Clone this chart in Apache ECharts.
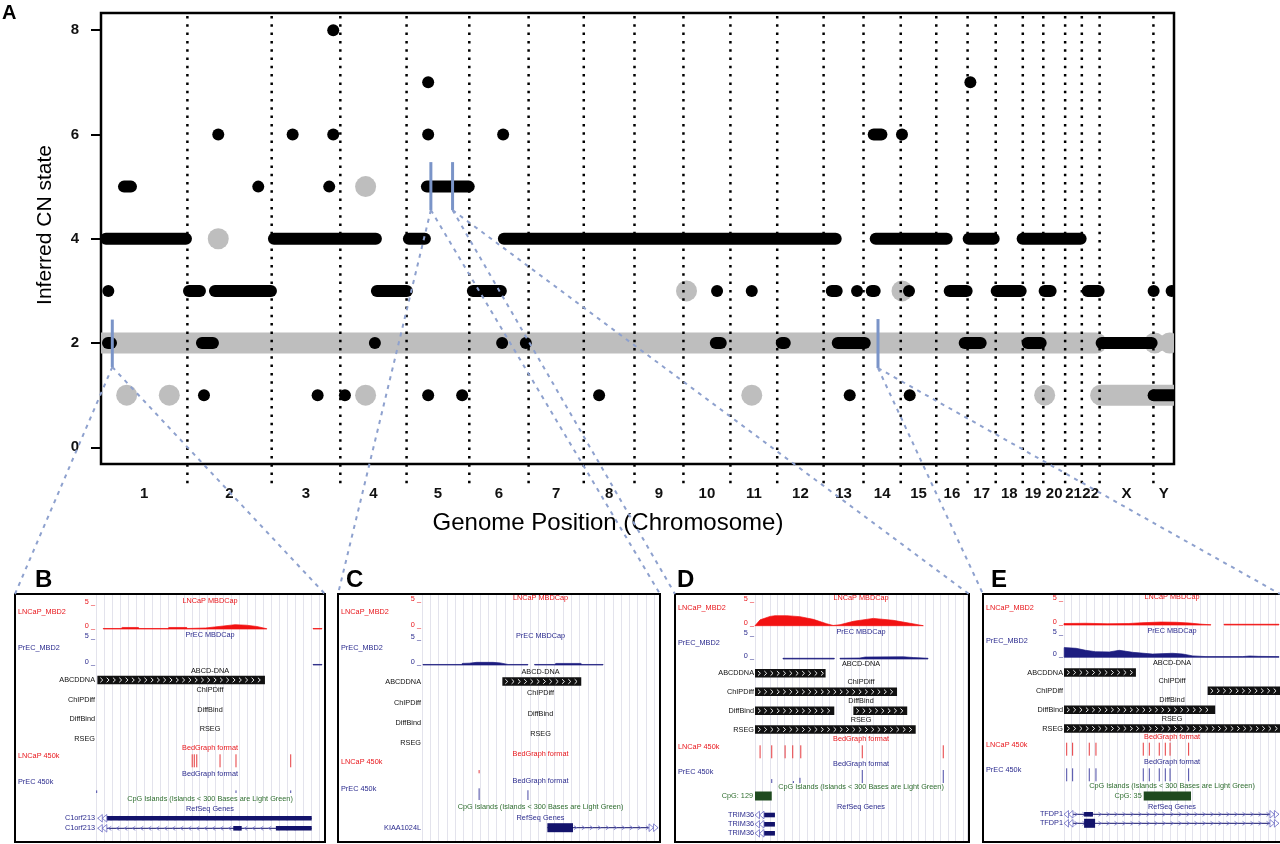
<!DOCTYPE html>
<html><head><meta charset="utf-8">
<script src="https://cdn.jsdelivr.net/npm/echarts@6/dist/echarts.min.js"></script>
<style>html,body{margin:0;padding:0;background:#fff;}#c{width:1280px;height:844px;}</style>
</head><body><div id="c"></div>
<script>
// ================= Panel A data =================
const chromNames = ['1','2','3','4','5','6','7','8','9','10','11','12','13','14','15','16','17','18','19','20','21','22','X','Y'];
const chromLengthsMb = [249.25,243.20,198.02,191.15,180.92,171.12,159.14,146.36,141.21,135.53,135.01,133.85,115.17,107.35,102.53,90.35,81.20,78.08,59.13,63.03,48.13,51.30,155.27,59.37];
const yTicks = [0,2,4,6,8];
// [start Mb (genome cumulative), end Mb, inferred CN state]
const lncapSegments = [
 [670.0,670.0,8],
 [943.9,943.9,7],[2508.2,2508.2,7],
 [338.3,338.3,6],[552.9,552.9,6],[670.0,670.0,6],[943.9,943.9,6],[1160.2,1160.2,6],[2229.3,2251.5,6],[2310.9,2310.9,6],
 [66.3,86.5,5],[453.7,453.7,5],[658.4,658.4,5],[940.2,1061,5],
 [14,245.1,4],[498.9,793.1,4],[888.3,934.4,4],[1162.3,2119.7,4],[2235.1,2439.9,4],[2503.3,2575.4,4],[2659.0,2826.3,4],
 [21.1,21.1,3],[253.8,285.5,3],[328.8,490.3,3],[796.0,882.5,3],[1072.8,1153.6,3],[1777.4,1777.4,3],[1877.5,1877.5,3],[2108.2,2122.6,3],[2181.2,2181.2,3],[2223.6,2232.2,3],[2331.1,2331.1,3],[2448.5,2497.5,3],[2584.1,2653.3,3],[2722.5,2739.8,3],[2846.5,2878.2,3],[3036.9,3036.9,3],[3088.8,3088.8,3],
 [20.2,28.8,2],[291.3,323.0,2],[790.2,790.2,2],[1157.3,1157.3,2],[1225.7,1225.7,2],[1773.7,1788.1,2],[1964.0,1972.7,2],[2125.5,2203.4,2],[2491.8,2537.9,2],[2673.5,2711.0,2],[2886.9,3031.1,2],
 [297.1,297.1,1],[625.0,625.0,1],[703.7,703.7,1],[943.9,943.9,1],[1042.0,1042.0,1],[1437.1,1437.1,1],[2160.1,2160.1,1],[2333.2,2333.2,1],[3036.9,3130,1]
];
const normalSegments = [
 [0,2871,2],[3039.8,3039.8,2],[3083.0,3083.0,2],
 [763.4,763.4,5],[338.3,338.3,4],[1689.2,1689.2,3],[2310.9,2310.9,3],
 [74.1,74.1,1],[197.0,197.0,1],[763.4,763.4,1],[1877.5,1877.5,1],[2722.5,2722.5,1],[2884,3130,1]
];
// [position Mb, low CN, high CN] -> zoomed regions B, C, D, E
const zoomMarkers = [[32.6,1.54,2.45],[951.7,4.55,5.47],[1014.3,4.55,5.47],[2241.7,1.52,2.46]];

// ================= Browser panels data (x in % of view) =================
const panelLetters = ['B','C','D','E'];
const barTitles = ['ABCD-DNA','ChIPDiff','DiffBind','RSEG'];
const barLabels = ['ABCDDNA','ChIPDiff','DiffBind','RSEG'];
const cpgTitle = 'CpG Islands (Islands < 300 Bases are Light Green)';

const B_lncapSignal = [[[3.2,0.1],[11,0.1],[11.5,0.3],[18.6,0.3],[19,0.1],[31.5,0.1],[32,0.3],[39.8,0.3],[40.2,0.1],[48,0.2],[52,0.4],[56,0.6],[61,0.85],[66,0.75],[70.5,0.5],[74.9,0.05]],[[95.2,0.1],[99.1,0.1]]];
const B_precSignal = [[[95.2,0.1],[99.1,0.1]]];
const B_abcd = [[0.6,74.1]];
const B_chipdiff = [];
const B_diffbind = [];
const B_rseg = [];
const B_lncap450 = [[42.2,1],[43.1,1],[44.2,1],[54.4,1],[61.4,1],[85.4,1]];
const B_prec450 = [[0.3,0.2],[61.4,0.2],[85.4,0.2]];
const B_cpg = [];
const B_genes = [['C1orf213',0.8,94.6,[[4.7,94.6,'utr']],'-'],['C1orf213',0.8,94.6,[[60.2,63.9,'utr'],[78.9,94.6,'utr']],'-']];

const C_lncapSignal = [];
const C_precSignal = [[[0.4,0.1],[16.6,0.1],[17,0.3],[20,0.35],[23,0.5],[30,0.5],[33,0.4],[36.3,0.1],[44.7,0.1]],[[47.5,0.1],[56,0.1],[56.5,0.3],[67,0.3],[67.5,0.1],[76.4,0.1]]];
const C_abcd = [[33.9,67.2]];
const C_chipdiff = [];
const C_diffbind = [];
const C_rseg = [];
const C_lncap450 = [[24.1,0.25]];
const C_prec450 = [[24.1,0.9],[44.7,0.75]];
const C_cpg = [];
const C_genes = [['KIAA1024L',52.9,99.6,[[52.9,63.7,'cds']],'+']];

const D_lncapSignal = [[[0,0],[2.4,1.2],[7.1,1.9],[9.4,2.05],[15,2.05],[21.2,1.85],[27.5,1.3],[33.8,0.4],[36.9,0.05],[40.1,0.2],[46.4,0.9],[55.8,1.5],[65.2,1.1],[73.1,0.5],[79.4,0]]];
const D_precSignal = [[[13.2,0.15],[37.4,0.15]],[[40.1,0.15],[49.5,0.2],[52,0.4],[70,0.45],[74.7,0.3],[81.6,0.15]]];
const D_abcd = [[0,33.3]];
const D_chipdiff = [[0,67]];
const D_diffbind = [[0,37.4],[46.4,71.8]];
const D_rseg = [[0,75.8]];
const D_lncap450 = [[2.4,1],[7.9,1],[14.2,1],[17.8,1],[21.6,1],[50.6,1],[88.8,1]];
const D_prec450 = [[7.9,0.3],[18.1,0.15],[21.2,0.4],[50.6,1],[88.8,1]];
const D_cpg = [[0,7.9,'CpG: 129']];
const D_genes = [['TRIM36',0,9.4,[[4.2,9.4,'utr']],'-'],['TRIM36',0,9.4,[[4.2,9.4,'utr']],'-'],['TRIM36',0,9.4,[[4.2,9.4,'utr']],'-']];

const E_lncapSignal = [[[0,0.3],[10,0.35],[20,0.25],[30,0.3],[36,0.45],[45,0.6],[52,0.55],[58,0.4],[64,0.15],[68,0.05]],[[74.1,0.15],[99.5,0.15]]];
const E_precSignal = [[[0.1,2.08],[5.6,1.93],[10,1.5],[14.6,1.2],[21,1.15],[25.6,1.5],[31.8,1.07],[41,0.7],[50.3,0.86],[55,0.7],[59.6,0.3],[65.7,0.15],[82.7,0.15],[86,0.28],[90,0.2],[99.5,0.15]]];
const E_abcd = [[0,33.3]];
const E_chipdiff = [[66.5,100]];
const E_diffbind = [[0,70]];
const E_rseg = [[0,100]];
const E_lncap450 = [[1.25,1],[4,1],[11.7,1],[14.8,1],[36.7,1],[39.5,1],[44.1,1],[46.9,1],[49.1,1],[57.7,1]];
const E_prec450 = [[1.25,1],[4,1],[11.7,1],[14.8,1],[36.7,1],[39.5,1],[44.1,1],[46.9,1],[49.1,1],[57.7,1]];
const E_cpg = [[36.9,58.8,'CpG: 35']];
const E_genes = [['TFDP1',0,99.5,[[9.3,13.4,'utr']],'+'],['TFDP1',0,99.5,[[9.3,14.4,'cds']],'+']];

// ================= layout / styling =================
const FONT = "'Liberation Sans', Arial, Helvetica, sans-serif";
const RED = '#e8161b', RED_FILL = '#f21212', NAVY = '#2b2b8e', NAVY_FILL = '#1d1d80';
const GREEN = '#2f6e2f', CPG_FILL = '#1f4a1f', GENE = '#13136b', GENE_LIGHT = '#6b6bc4';
const Y_MIN = -0.32, Y_MAX = 8.33;
const PF = 7.3; // panel font size

const panelLayouts = [
 {box:[15,594,310,248], dl:81, dw:228, t1:6.7, l1:18.3, b1:35, t2:41, l2:53.7, b2:71, bars:[86,105.5,125,144.5], bg1:154.3, bg2:180, cpgT:205.3, cpgBar:213, refT:215.3, genes:[224.3,234.3]},
 {box:[338,594,322,248], dl:84, dw:237, t1:4.3, l1:17.7, b1:34, t2:41.7, l2:53.7, b2:71, bars:[87.5,108.7,129.3,149.3], bg1:160.3, bg2:187, cpgT:213.3, cpgBar:220, refT:224.3, genes:[233.7]},
 {box:[675,594,294,248], dl:80, dw:212, t1:4.3, l1:14.3, b1:31.7, t2:37.7, l2:49.3, b2:65, bars:[79.3,97.8,116.8,135.5], bg1:145.3, bg2:170, cpgT:193.3, cpgBar:202, refT:213.3, genes:[221,230.3,239.3]},
 {box:[983,594,300,248], dl:81, dw:216, t1:3.3, l1:14.3, b1:31, t2:37, l2:47, b2:63.3, bars:[78.5,96.8,115.8,134.5], bg1:142.7, bg2:168.3, cpgT:191.7, cpgBar:202, refT:212.7, genes:[220.3,229.3]}
];
const panelSets = [
 {lncap:B_lncapSignal, prec:B_precSignal, bars:[B_abcd,B_chipdiff,B_diffbind,B_rseg], l450:B_lncap450, p450:B_prec450, cpg:B_cpg, genes:B_genes},
 {lncap:C_lncapSignal, prec:C_precSignal, bars:[C_abcd,C_chipdiff,C_diffbind,C_rseg], l450:C_lncap450, p450:C_prec450, cpg:C_cpg, genes:C_genes},
 {lncap:D_lncapSignal, prec:D_precSignal, bars:[D_abcd,D_chipdiff,D_diffbind,D_rseg], l450:D_lncap450, p450:D_prec450, cpg:D_cpg, genes:D_genes},
 {lncap:E_lncapSignal, prec:E_precSignal, bars:[E_abcd,E_chipdiff,E_diffbind,E_rseg], l450:E_lncap450, p450:E_prec450, cpg:E_cpg, genes:E_genes}
];

// ================= derived =================
const chromStarts = [], chromMids = [];
let acc = 0;
chromLengthsMb.forEach(l => { chromStarts.push(acc); chromMids.push(acc + l / 2); acc += l; });
const totalMb = acc;
const boundaries = chromStarts.slice(1).map(b => [b, 0]);

function segRender(h, color) {
  return function (params, api) {
    const p1 = api.coord([api.value(0), api.value(2)]);
    const p2 = api.coord([api.value(1), api.value(2)]);
    const cs = params.coordSys;
    return {type:'group', clipPath:{type:'rect', shape:{x:cs.x, y:cs.y, width:cs.width, height:cs.height}},
      children:[{type:'rect', shape:{x:p1[0]-h/2, y:p1[1]-h/2, width:(p2[0]-p1[0])+h, height:h, r:h/2}, style:{fill:color}}]};
  };
}
function dotRender(params, api) {
  const b = api.value(0);
  const t = api.coord([b, Y_MAX]), bt = api.coord([b, Y_MIN]);
  return {type:'line', shape:{x1:t[0], y1:t[1]+3, x2:t[0], y2:bt[1]+21}, style:{stroke:'#000', lineWidth:2.5, lineDash:[2.5,5.8]}};
}
function markerRender(params, api) {
  const x = api.value(0);
  const a = api.coord([x, api.value(1)]), b = api.coord([x, api.value(2)]);
  return {type:'line', shape:{x1:a[0], y1:a[1], x2:b[0], y2:b[1]}, style:{stroke:'#7a94c8', lineWidth:3}};
}
function txt(x, y, s, fill, align, size, weight) {
  return {type:'text', x:x, y:y, style:{text:s, fill:fill, font:(weight||'normal')+' '+size+'px '+FONT, align:align, verticalAlign:'middle', textAlign:align, textVerticalAlign:'middle'}};
}

function panelMarks(k) {
  const L = panelLayouts[k], D = panelSets[k], m = [];
  m.push({t:'txt', a:'mid', y:L.t1, s:'LNCaP MBDCap', c:RED});
  m.push({t:'txt', a:'lab', y:L.t1+1, s:'5 _', c:RED});
  m.push({t:'txt', a:'lab', y:L.b1-3, s:'0 _', c:RED});
  m.push({t:'txt', a:'box', y:L.l1, s:'LNCaP_MBD2', c:RED});
  D.lncap.forEach(p => m.push({t:'sig', pts:p, base:L.b1, top:L.t1, c:RED_FILL}));
  m.push({t:'txt', a:'mid', y:L.t2, s:'PrEC MBDCap', c:NAVY});
  m.push({t:'txt', a:'lab', y:L.t2+1, s:'5 _', c:NAVY});
  m.push({t:'txt', a:'lab', y:L.b2-3, s:'0 _', c:NAVY});
  m.push({t:'txt', a:'box', y:L.l2, s:'PrEC_MBD2', c:NAVY});
  D.prec.forEach(p => m.push({t:'sig', pts:p, base:L.b2, top:L.t2, c:NAVY_FILL}));
  barTitles.forEach((bt, j) => {
    m.push({t:'txt', a:'mid', y:L.bars[j]-9.5, s:bt, c:'#111'});
    m.push({t:'txt', a:'lab', y:L.bars[j], s:barLabels[j], c:'#111'});
    D.bars[j].forEach(b => m.push({t:'bar', s:b[0], e:b[1], y:L.bars[j]}));
  });
  m.push({t:'txt', a:'mid', y:L.bg1, s:'BedGraph format', c:RED});
  m.push({t:'txt', a:'box', y:L.bg1+8, s:'LNCaP 450k', c:RED});
  D.l450.forEach(tk => m.push({t:'tick', p:tk[0], v:tk[1], y:L.bg1, c:'#e63a3e'}));
  m.push({t:'txt', a:'mid', y:L.bg2, s:'BedGraph format', c:NAVY});
  m.push({t:'txt', a:'box', y:L.bg2+8, s:'PrEC 450k', c:NAVY});
  D.p450.forEach(tk => m.push({t:'tick', p:tk[0], v:tk[1], y:L.bg2, c:'#4a4aa6'}));
  m.push({t:'txt', a:'mid', y:L.cpgT, s:cpgTitle, c:GREEN});
  D.cpg.forEach(cg => m.push({t:'cpg', s:cg[0], e:cg[1], lbl:cg[2], y:L.cpgBar}));
  m.push({t:'txt', a:'mid', y:L.refT, s:'RefSeq Genes', c:NAVY});
  D.genes.forEach((g, j) => m.push({t:'gene', g:g, y:L.genes[j]}));
  return m;
}

function panelRender(marks, L) {
  return function (params, api) {
    const m = marks[params.dataIndex];
    const C = (x, y) => api.coord([x, y]);
    const x0 = C(0, 0)[0];
    if (m.t === 'txt') {
      const y = C(0, m.y)[1];
      if (m.a === 'mid') return txt(C(50, m.y)[0], y, m.s, m.c, 'center', PF);
      if (m.a === 'lab') return txt(x0 - 1, y, m.s, m.c, 'right', PF);
      return txt(x0 - L.dl + 3, y, m.s, m.c, 'left', PF);
    }
    if (m.t === 'sig') {
      const k = (m.base - m.top - 3) / 5;
      const pts = [C(m.pts[0][0], m.base)];
      m.pts.forEach(p => pts.push(C(p[0], m.base - p[1] * k)));
      pts.push(C(m.pts[m.pts.length-1][0], m.base));
      return {type:'polygon', shape:{points:pts}, style:{fill:m.c, stroke:m.c, lineWidth:0.7}};
    }
    if (m.t === 'bar') {
      const a = C(m.s, m.y - 4.25), b = C(m.e, m.y + 4.25);
      const ch = [{type:'rect', shape:{x:a[0], y:a[1], width:b[0]-a[0], height:b[1]-a[1]}, style:{fill:'#111'}}];
      const yc = (a[1] + b[1]) / 2;
      for (let x = a[0] + 3; x + 4 < b[0]; x += 6.3) {
        ch.push({type:'polyline', shape:{points:[[x, yc-2.3],[x+2.4, yc],[x, yc+2.3]]}, style:{stroke:'#fff', lineWidth:0.9, fill:null}});
      }
      return {type:'group', children:ch};
    }
    if (m.t === 'tick') {
      const a = C(m.p, m.y + 19), b = C(m.p, m.y + 19 - 13 * m.v);
      return {type:'line', shape:{x1:a[0], y1:a[1], x2:b[0], y2:b[1]}, style:{stroke:m.c, lineWidth:1}};
    }
    if (m.t === 'cpg') {
      const a = C(m.s, m.y - 4.5), b = C(m.e, m.y + 4.5);
      return {type:'group', children:[
        {type:'rect', shape:{x:a[0], y:a[1], width:b[0]-a[0], height:b[1]-a[1]}, style:{fill:CPG_FILL}},
        txt(a[0] - 2, (a[1]+b[1])/2, m.lbl, GREEN, 'right', PF)
      ]};
    }
    if (m.t === 'gene') {
      const g = m.g;
      const a = C(g[1], m.y), b = C(g[2], m.y);
      const ch = [txt(x0 - 1, a[1], g[0], NAVY, 'right', PF),
        {type:'line', shape:{x1:a[0], y1:a[1], x2:b[0], y2:b[1]}, style:{stroke:GENE, lineWidth:1}}];
      const dir = g[4] === '+' ? 1 : -1;
      for (let x = a[0] + 12; x < b[0] - 10; x += 8) {
        ch.push({type:'polyline', shape:{points:[[x - 1.5*dir, a[1]-2],[x + 1.5*dir, a[1]],[x - 1.5*dir, a[1]+2]]}, style:{stroke:GENE_LIGHT, lineWidth:0.8, fill:null}});
      }
      g[3].forEach(bl => {
        const h = bl[2] === 'cds' ? 9 : 4.6;
        const p = C(bl[0], m.y), q = C(bl[1], m.y);
        ch.push({type:'rect', shape:{x:p[0], y:p[1]-h/2, width:q[0]-p[0], height:h}, style:{fill:GENE}});
      });
      if (g[1] <= 1) {
        [0, 4.5].forEach(o => ch.push({type:'polygon', shape:{points:[[a[0]+o+4.5, a[1]-3.8],[a[0]+o, a[1]],[a[0]+o+4.5, a[1]+3.8]]}, style:{stroke:GENE_LIGHT, fill:'#fff', lineWidth:0.8}}));
      }
      if (g[2] >= 99) {
        [0, 4.5].forEach(o => ch.push({type:'polygon', shape:{points:[[b[0]-o-4.5, b[1]-3.8],[b[0]-o, b[1]],[b[0]-o-4.5, b[1]+3.8]]}, style:{stroke:GENE_LIGHT, fill:'#fff', lineWidth:0.8}}));
      }
      return {type:'group', children:ch};
    }
    return null;
  };
}

// ================= option =================
const grids = [{left:101, top:13, width:1073, height:451, show:true, borderColor:'#000', borderWidth:2.5, backgroundColor:'transparent'}];
const xAxes = [{gridIndex:0, type:'value', min:0, max:totalMb,
  axisLine:{show:false}, axisTick:{show:false}, splitLine:{show:false},
  axisLabel:{customValues:chromMids, margin:22, color:'#111', fontSize:15, fontWeight:'bold', fontFamily:FONT,
    formatter: v => { let best = 0; chromMids.forEach((m, i) => { if (Math.abs(m - v) < Math.abs(chromMids[best] - v)) best = i; }); return chromNames[best]; }}}];
const yAxes = [{gridIndex:0, type:'value', min:Y_MIN, max:Y_MAX,
  axisLine:{show:false}, splitLine:{show:false},
  axisTick:{show:true, customValues:yTicks, length:10, lineStyle:{color:'#000', width:2}},
  axisLabel:{customValues:yTicks, margin:22, color:'#111', fontSize:15, fontWeight:'bold', fontFamily:FONT}}];
const series = [
  {type:'custom', xAxisIndex:0, yAxisIndex:0, data:normalSegments, encode:{x:[0,1], y:2}, renderItem:segRender(21, '#bebebe'), clip:true, z:2, silent:true},
  {type:'custom', xAxisIndex:0, yAxisIndex:0, data:boundaries, encode:{x:0, y:1}, renderItem:dotRender, z:3, silent:true},
  {type:'custom', xAxisIndex:0, yAxisIndex:0, data:lncapSegments, encode:{x:[0,1], y:2}, renderItem:segRender(12, '#000'), clip:true, z:4, silent:true},
  {type:'custom', xAxisIndex:0, yAxisIndex:0, data:zoomMarkers, encode:{x:0, y:[1,2]}, renderItem:markerRender, z:5, silent:true}
];
panelLayouts.forEach((L, k) => {
  const gi = k + 1;
  grids.push({left:L.box[0] + L.dl, top:L.box[1], width:L.dw, height:L.box[3], show:false});
  xAxes.push({gridIndex:gi, type:'value', min:0, max:100, interval:3.5, axisLine:{show:false}, axisTick:{show:false}, axisLabel:{show:false},
    splitLine:{show:true, lineStyle:{color:'#e3e3ec', width:1}}});
  yAxes.push({gridIndex:gi, type:'value', min:0, max:L.box[3], inverse:true, show:false});
  const marks = panelMarks(k);
  series.push({type:'custom', xAxisIndex:gi, yAxisIndex:gi, data:marks.map(() => [0, 0]), renderItem:panelRender(marks, L), z:3, silent:true});
});

const chart = echarts.init(document.getElementById('c'), null, {renderer:'canvas'});
chart.setOption({animation:false, backgroundColor:'#fff', grid:grids, xAxis:xAxes, yAxis:yAxes, series:series});

// ================= annotations =================
const graphics = [
  {type:'text', left:2, top:3, style:{text:'A', font:'bold 20px '+FONT, fill:'#000'}, z:60},
  {type:'text', x:45, y:225, rotation:Math.PI/2, style:{text:'Inferred CN state', font:'21px '+FONT, fill:'#000', textAlign:'center', textVerticalAlign:'middle', align:'center', verticalAlign:'middle'}, z:60},
  {type:'text', x:608, y:523, style:{text:'Genome Position (Chromosome)', font:'24px '+FONT, fill:'#000', textAlign:'center', textVerticalAlign:'middle', align:'center', verticalAlign:'middle'}, z:60}
];
panelLayouts.forEach((L, k) => {
  const b = L.box;
  graphics.push({type:'rect', shape:{x:b[0], y:b[1], width:b[2], height:b[3]}, style:{fill:null, stroke:'#000', lineWidth:2}, z:60});
  graphics.push({type:'text', x:b[0] + [20, 8, 2, 8][k], y:580, style:{text:panelLetters[k], font:'bold 24px '+FONT, fill:'#000', textVerticalAlign:'middle', verticalAlign:'middle'}, z:60});
});
zoomMarkers.forEach((mk, i) => {
  const p = chart.convertToPixel({gridIndex:0}, [mk[0], mk[1]]);
  const b = panelLayouts[i].box;
  [[b[0], b[1]], [Math.min(b[0] + b[2], 1280), b[1]]].forEach(e => {
    graphics.push({type:'line', shape:{x1:p[0], y1:p[1], x2:e[0], y2:e[1]}, style:{stroke:'#8ea1ce', lineWidth:2, lineDash:[4,5]}, z:70});
  });
});
chart.setOption({graphic:graphics});
</script>
</body></html>
